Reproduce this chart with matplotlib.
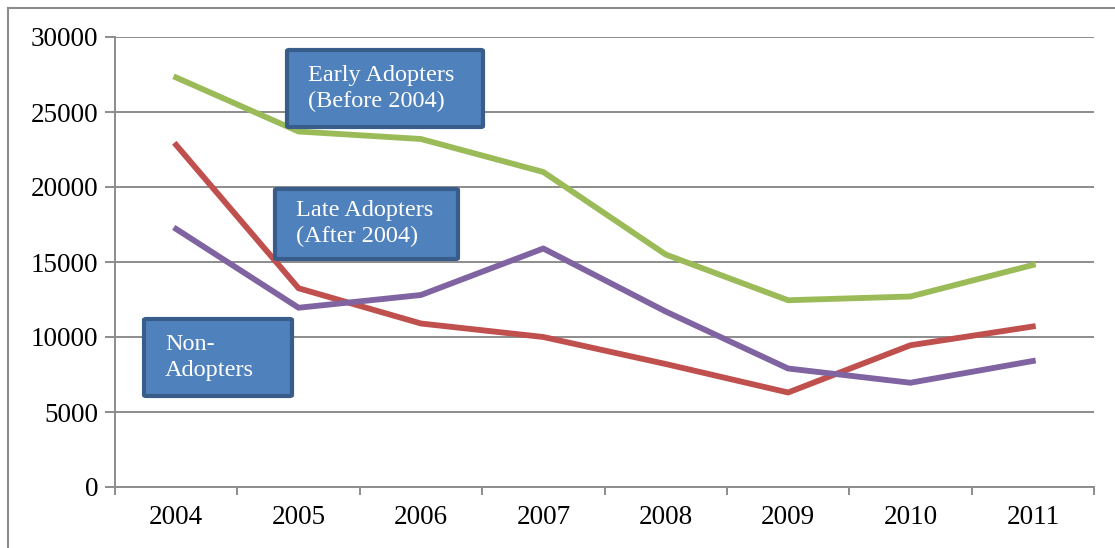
import matplotlib.pyplot as plt
import numpy as np
from matplotlib.lines import Line2D
from matplotlib.patches import FancyBboxPatch

years = ['2004', '2005', '2006', '2007', '2008', '2009', '2010', '2011']
early_adopters = [27300, 23700, 23200, 21000, 15500, 12450, 12700, 14800]
late_adopters = [22800, 13250, 10900, 10000, 8200, 6300, 9450, 10700]
non_adopters = [17200, 11950, 12800, 15900, 11700, 7900, 6950, 8400]

plt.rcParams['font.family'] = ['Liberation Serif', 'DejaVu Serif']

W, H = 1115, 548
fig = plt.figure(figsize=(W / 100, H / 100), dpi=100)
ax = fig.add_axes([115 / W, 1 - 487 / H, (1094 - 115) / W, (487 - 37) / H])

x = np.arange(len(years))
ax.plot(x, early_adopters, color='#9BBB59', lw=4.2, solid_joinstyle='round', zorder=3)
ax.plot(x, late_adopters, color='#C0504D', lw=4.2, solid_joinstyle='round', zorder=3)
ax.plot(x, non_adopters, color='#8064A2', lw=4.2, solid_joinstyle='round', zorder=3)

ax.set_xlim(-0.5, len(years) - 0.5)
ax.set_ylim(0, 30000)
ax.set_yticks(np.arange(0, 30001, 5000))
ax.grid(axis='y', color='#8C8C8C', lw=1.4)
ax.set_axisbelow(True)

ax.set_xticks(x)
ax.set_xticklabels(years)
ax.tick_params(axis='x', which='major', length=0, pad=13, labelsize=19.5)
ax.set_xticks(np.arange(-0.5, len(years)), minor=True)
ax.tick_params(axis='x', which='minor', length=6, width=1.4, color='#8C8C8C')
ax.tick_params(axis='y', length=7, width=1.4, color='#8C8C8C', pad=5, labelsize=19.5)

for s in ['top', 'right']:
    ax.spines[s].set_visible(False)
for s in ['left', 'bottom']:
    ax.spines[s].set_color('#8C8C8C')
    ax.spines[s].set_linewidth(1.4)

# outer frame (only top and left visible in the crop)
fig.add_artist(Line2D([8 / W, 8 / W], [0, 1 - 8 / H], color='#8C8C8C', lw=1.5,
                      transform=fig.transFigure))
fig.add_artist(Line2D([8 / W, 1], [1 - 8 / H, 1 - 8 / H], color='#8C8C8C', lw=1.5,
                      transform=fig.transFigure))

# label boxes, pixel positions in the figure
boxes = [
    ((287, 50, 483, 127), 308, 'Early Adopters\n(Before 2004)'),
    ((275, 189, 458, 259), 296, 'Late Adopters\n(After 2004)'),
    ((144, 319, 292, 396), 165, 'Non-\nAdopters'),
]
for (x0, y0, x1, y1), tx, label in boxes:
    rect = FancyBboxPatch((x0 / W, 1 - y1 / H), (x1 - x0) / W, (y1 - y0) / H,
                          boxstyle='round,pad=0,rounding_size=0.002',
                          facecolor='#4F81BD', edgecolor='#385D8A', lw=3,
                          transform=fig.transFigure, zorder=5)
    fig.add_artist(rect)
    fig.text(tx / W, 1 - (y0 + y1) / 2 / H, label, color='white', fontsize=17.5,
             ha='left', va='center', linespacing=1.3, zorder=6)

fig.savefig('out.png', dpi=100)
